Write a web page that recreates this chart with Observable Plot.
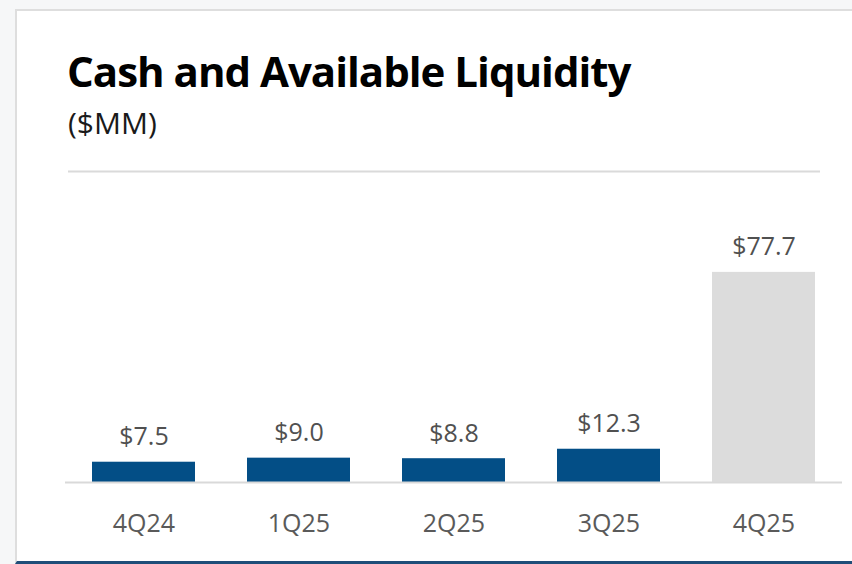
<!DOCTYPE html>
<html>
<head>
<meta charset="utf-8">
<script src="https://cdn.jsdelivr.net/npm/d3@7"></script>
<script src="https://cdn.jsdelivr.net/npm/@observablehq/plot@0.6"></script>
<style>
  html, body { margin: 0; padding: 0; width: 852px; height: 564px; overflow: hidden; background: #f6f7f8; font-family: "Open Sans", sans-serif; }
  #card { position: absolute; left: 15px; top: 9px; width: 835px; height: 550px; background: #fff; border-left: 2px solid #dedede; border-top: 2px solid #dedede; border-bottom: 3px solid #1f4e79; }
  #title { position: absolute; left: 67px; top: 50px; font-size: 42px; line-height: 1; font-weight: 700; color: #000; white-space: nowrap; letter-spacing: -1px; }
  #subtitle { position: absolute; left: 68px; top: 108px; font-size: 30px; line-height: 1; color: #1a1a1a; white-space: nowrap; }
  #chart { position: absolute; left: 0; top: 160px; }
</style>
</head>
<body>
<div id="card"></div>
<div id="title">Cash and Available Liquidity</div>
<div id="subtitle">($MM)</div>
<div id="chart"></div>
<script>
const quarters = ["4Q24", "1Q25", "2Q25", "3Q25", "4Q25"];
const values = [7.5, 9.0, 8.8, 12.3, 77.7];
const labels = ["$7.5", "$9.0", "$8.8", "$12.3", "$77.7"];

const data = quarters.map((q, i) => ({quarter: q, value: values[i], label: labels[i]}));
const blue = "#034e86";
const gray = "#dcdcdc";

const chart = Plot.plot({
  width: 852,
  height: 404,
  marginLeft: 65,
  marginRight: 10,
  marginTop: 11,
  marginBottom: 82,
  style: {fontFamily: "Open Sans, sans-serif", background: "transparent"},
  x: {domain: quarters, paddingInner: 0.333, paddingOuter: 0.17, label: null},
  y: {domain: [0, 115], axis: null},
  marks: [
    Plot.ruleY([115], {stroke: "#dadada", strokeWidth: 2, insetLeft: 3, insetRight: 22}),
    Plot.barY(data, {x: "quarter", y: "value", fill: d => d.quarter === "4Q25" ? gray : blue}),
    Plot.ruleY([0], {stroke: "#d9d9d9", strokeWidth: 2}),
    Plot.text(data, {x: "quarter", y: "value", text: "label", dy: -17, lineAnchor: "bottom", fontSize: 25, fill: "#505050"}),
    Plot.axisX({tickSize: 0, tickPadding: 32, fontSize: 25, color: "#5a5a5a", label: null})
  ]
});
document.getElementById("chart").appendChild(chart);
</script>
</body>
</html>
